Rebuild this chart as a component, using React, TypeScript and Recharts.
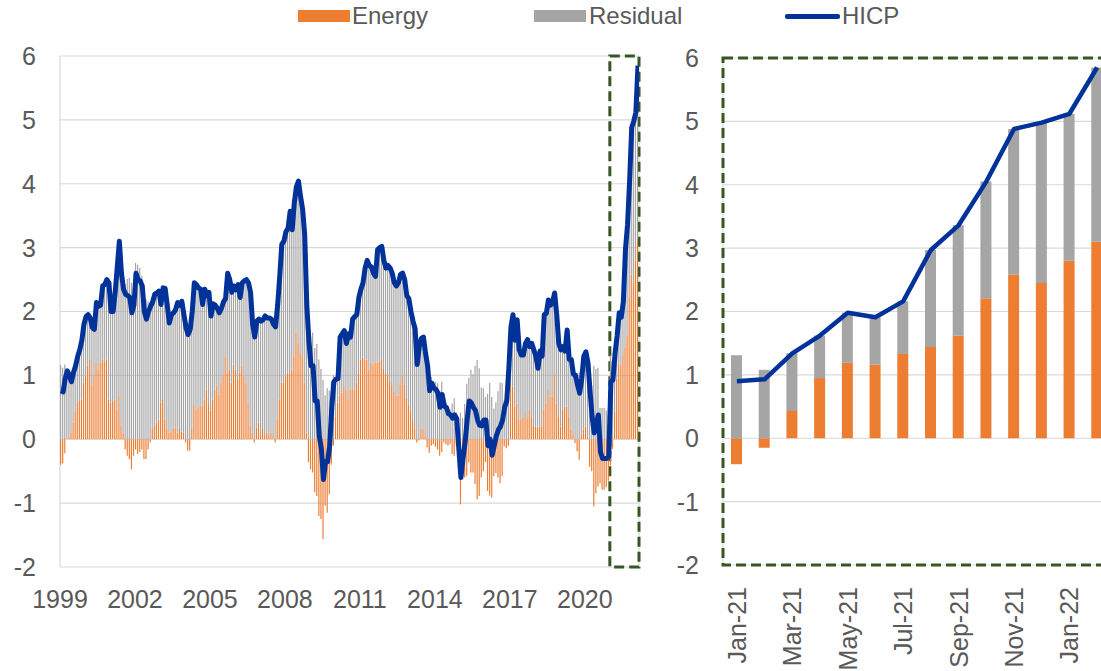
import React from 'react';
import { ComposedChart, Bar, Line, XAxis, YAxis, CartesianGrid, ReferenceArea } from 'recharts';

// monthly, Jan 1999 .. Feb 2022 (annual % change / pp contributions)
const startYear = 1999;

const hicp: number[] = [
  0.76, 0.74, 0.95, 1.07, 1.0, 0.9, 1.05, 1.15, 1.3, 1.4, 1.55, 1.8, // 1999
  1.92, 1.95, 1.9, 1.75, 1.72, 2.14, 2.08, 2.1, 2.4, 2.42, 2.5, 2.45, // 2000
  2.0, 2.0, 2.3, 2.7, 3.1, 2.6, 2.35, 2.27, 2.25, 2.22, 1.98, 2.1, // 2001
  2.6, 2.5, 2.48, 2.4, 2.0, 1.88, 2.0, 2.08, 2.15, 2.27, 2.29, 2.32, // 2002
  2.11, 2.37, 2.36, 2.1, 1.82, 1.95, 1.98, 2.03, 2.14, 2.1, 2.16, 1.95, // 2003
  1.75, 1.64, 1.72, 2.0, 2.45, 2.42, 2.37, 2.35, 2.11, 2.35, 2.25, 2.3, // 2004
  1.93, 2.12, 2.1, 2.05, 1.98, 2.05, 2.15, 2.2, 2.6, 2.5, 2.3, 2.4, // 2005
  2.34, 2.42, 2.22, 2.45, 2.48, 2.5, 2.45, 2.3, 1.8, 1.6, 1.85, 1.88, // 2006
  1.85, 1.87, 1.93, 1.9, 1.9, 1.88, 1.8, 1.76, 2.1, 2.55, 3.05, 3.1, // 2007
  3.25, 3.3, 3.57, 3.28, 3.7, 3.95, 4.04, 3.8, 3.6, 3.2, 2.1, 1.55, // 2008
  1.15, 1.15, 0.6, 0.6, 0.05, -0.15, -0.63, -0.35, -0.35, -0.1, 0.5, 0.9, // 2009
  0.94, 0.95, 1.6, 1.65, 1.7, 1.5, 1.65, 1.6, 1.88, 1.92, 1.95, 2.22, // 2010
  2.35, 2.45, 2.68, 2.8, 2.72, 2.7, 2.6, 2.55, 2.97, 3.0, 3.02, 2.8, // 2011
  2.68, 2.72, 2.68, 2.6, 2.45, 2.4, 2.45, 2.58, 2.6, 2.5, 2.25, 2.2, // 2012
  2.0, 1.85, 1.73, 1.17, 1.45, 1.58, 1.6, 1.35, 1.15, 0.76, 0.88, 0.8, // 2013
  0.78, 0.72, 0.5, 0.7, 0.52, 0.5, 0.4, 0.38, 0.33, 0.38, 0.32, -0.15, // 2014
  -0.6, -0.3, -0.05, 0.3, 0.6, 0.57, 0.5, 0.45, 0.3, 0.22, 0.21, 0.3, // 2015
  0.3, -0.1, 0.0, -0.25, -0.1, 0.05, 0.15, 0.2, 0.3, 0.5, 0.6, 1.1, // 2016
  1.75, 1.95, 1.55, 1.87, 1.4, 1.32, 1.32, 1.5, 1.56, 1.45, 1.5, 1.4, // 2017
  1.3, 1.11, 1.38, 1.3, 1.95, 1.97, 2.18, 2.1, 2.15, 2.29, 1.95, 1.5, // 2018
  1.4, 1.45, 1.38, 1.71, 1.25, 1.25, 1.02, 1.0, 0.85, 0.72, 0.95, 1.3, // 2019
  1.37, 1.2, 0.75, 0.35, 0.1, 0.25, 0.38, -0.2, -0.3, -0.3, -0.3, -0.27, // 2020
  0.9, 0.93, 1.34, 1.62, 1.98, 1.91, 2.16, 2.97, 3.36, 4.05, 4.88, 4.98, // 2021
  5.12, 5.85, // 2022
];

const energy: number[] = [
  -0.4, -0.38, -0.22, 0.0, 0.03, 0.1, 0.26, 0.44, 0.55, 0.6, 0.62, 0.89, // 1999
  1.0, 1.15, 1.25, 0.86, 0.99, 1.2, 1.09, 1.2, 1.25, 1.22, 1.25, 0.62, // 2000
  0.57, 0.6, 0.62, 0.47, 0.68, 0.21, 0.1, -0.16, -0.26, -0.31, -0.47, -0.26, // 2001
  -0.16, -0.23, -0.2, -0.16, -0.31, -0.31, -0.16, -0.05, 0.16, 0.21, 0.26, 0.31, // 2002
  0.57, 0.62, 0.31, 0.16, 0.1, 0.12, 0.16, 0.18, 0.1, 0.16, 0.12, 0.1, // 2003
  -0.05, -0.18, -0.18, 0.16, 0.52, 0.47, 0.5, 0.52, 0.52, 0.62, 0.78, 0.55, // 2004
  0.45, 0.62, 0.78, 0.83, 0.7, 0.89, 0.99, 1.3, 1.04, 1.09, 0.89, 1.17, // 2005
  1.09, 0.94, 1.04, 1.15, 0.99, 0.89, 0.57, 0.21, 0.1, -0.05, 0.18, 0.26, // 2006
  0.08, 0.16, 0.05, 0.1, 0.05, 0.1, 0.05, -0.05, 0.31, 0.62, 0.89, 0.89, // 2007
  0.99, 1.04, 1.02, 1.09, 1.3, 1.67, 1.51, 1.35, 1.3, 0.89, 0.1, -0.36, // 2008
  -0.47, -0.52, -0.83, -0.89, -1.2, -1.25, -1.56, -1.04, -1.15, -0.86, -0.4, -0.1, // 2009
  0.36, 0.57, 0.68, 0.73, 0.83, 0.78, 0.62, 0.78, 0.8, 0.78, 0.89, 1.04, // 2010
  1.25, 1.28, 1.25, 1.25, 1.09, 1.2, 1.17, 1.2, 1.2, 1.22, 1.25, 1.1, // 2011
  1.04, 1.02, 0.91, 0.85, 0.75, 0.68, 0.68, 0.85, 0.99, 0.85, 0.65, 0.52, // 2012
  0.44, 0.3, 0.16, -0.05, -0.02, 0.16, 0.16, 0.05, -0.13, -0.21, -0.1, -0.08, // 2013
  -0.12, -0.16, -0.26, -0.2, -0.05, -0.08, -0.1, -0.08, -0.23, -0.26, -0.1, -0.47, // 2014
  -1.02, -0.63, -0.6, -0.57, -0.36, -0.52, -0.52, -0.7, -0.94, -0.89, -0.6, -0.5, // 2015
  -0.36, -0.81, -0.88, -0.91, -0.58, -0.53, -0.6, -0.69, -0.58, -0.11, -0.14, -0.1, // 2016
  0.88, 0.82, 0.51, 0.56, 0.3, 0.3, 0.35, 0.41, 0.33, 0.46, 0.35, 0.22, // 2017
  0.2, 0.2, 0.2, 0.2, 0.46, 0.56, 0.77, 0.67, 0.67, 1.01, 0.56, 0.35, // 2018
  0.2, 0.46, 0.51, 0.51, 0.35, 0.15, 0.09, -0.06, -0.19, -0.32, 0.05, 0.15, // 2019
  0.2, 0.04, -0.43, -0.5, -1.05, -0.85, -0.74, -0.69, -0.79, -0.79, -0.75, -0.65, // 2020
  -0.41, -0.15, 0.43, 0.95, 1.19, 1.16, 1.33, 1.44, 1.62, 2.21, 2.58, 2.45, // 2021
  2.8, 3.1, // 2022
];

const yearLabels = ['1999', '2002', '2005', '2008', '2011', '2014', '2017', '2020'];
const recentMonths = [
  'Jan-21', 'Feb-21', 'Mar-21', 'Apr-21', 'May-21', 'Jun-21', 'Jul-21',
  'Aug-21', 'Sep-21', 'Oct-21', 'Nov-21', 'Dec-21', 'Jan-22', 'Feb-22',
];
const yTicks = [-2, -1, 0, 1, 2, 3, 4, 5, 6];

const ORANGE = '#ED7D31';
const GREY = '#A5A5A5';
const BLUE = '#003299';
const GREEN = '#375623';
const TEXT = '#595959';
const GRID = '#D9D9D9';
const FONT = "'Liberation Sans', Arial, sans-serif";

// residual = headline minus energy contribution
const fullData = hicp.map((v, i) => ({
  x: i + 0.5,
  hicp: v,
  energy: energy[i],
  residual: Math.round((v - energy[i]) * 100) / 100,
}));
const recentStart = hicp.length - recentMonths.length;
const recentData = recentMonths.map((label, i) => ({ ...fullData[recentStart + i], x: i + 0.5, label }));

const yearGridTicks = [...Array.from({ length: 24 }, (_, i) => i * 12), hicp.length];
const yearLabelTicks = yearLabels.map((y) => (Number(y) - startYear) * 12);
const monthGridTicks = Array.from({ length: recentMonths.length + 1 }, (_, i) => i);
const monthLabelTicks = recentMonths.map((_, i) => i + 0.5).filter((_, i) => i % 2 === 0);

const tickStyle = { fill: TEXT, fontSize: 25, fontFamily: FONT };

const RotatedTick = (props: any) => {
  const { x, y, payload } = props;
  return (
    <text
      x={x}
      y={y}
      transform={`rotate(-90 ${x} ${y})`}
      textAnchor="end"
      dy="0.36em"
      fill={TEXT}
      fontSize={25}
      fontFamily={FONT}
    >
      {recentMonths[Math.floor(payload.value)]}
    </text>
  );
};

const legendText: React.CSSProperties = {
  position: 'absolute',
  top: 4,
  fontSize: 24,
  lineHeight: '24px',
  color: TEXT,
  fontFamily: FONT,
  whiteSpace: 'nowrap',
};

export default function App() {
  return (
    <div
      style={{
        position: 'fixed',
        left: 0,
        top: 0,
        width: 1101,
        height: 671,
        overflow: 'hidden',
        background: '#fff',
        fontFamily: FONT,
      }}
    >
      {/* legend */}
      <div style={{ position: 'absolute', left: 298, top: 10, width: 52, height: 12, background: ORANGE }} />
      <span style={{ ...legendText, left: 352 }}>Energy</span>
      <div style={{ position: 'absolute', left: 534, top: 10, width: 52, height: 12, background: GREY }} />
      <span style={{ ...legendText, left: 589 }}>Residual</span>
      <div style={{ position: 'absolute', left: 785, top: 14, width: 55, height: 5, borderRadius: 2, background: BLUE }} />
      <span style={{ ...legendText, left: 842 }}>HICP</span>

      {/* long history */}
      <div style={{ position: 'absolute', left: 0, top: 0 }}>
        <ComposedChart
          width={660}
          height={671}
          data={fullData}
          stackOffset="sign"
          margin={{ top: 56, right: 21, left: 0, bottom: 0 }}
        >
          <CartesianGrid xAxisId="grid" stroke={GRID} strokeWidth={1.2} />
          <XAxis
            xAxisId="lab"
            dataKey="x"
            type="number"
            domain={[0, hicp.length]}
            allowDataOverflow
            ticks={yearLabelTicks}
            interval={0}
            tickFormatter={(v: number) => String(startYear + v / 12)}
            tick={tickStyle}
            tickSize={0}
            tickMargin={23}
            axisLine={false}
            tickLine={false}
            height={104}
          />
          <XAxis
            xAxisId="grid"
            dataKey="x"
            type="number"
            domain={[0, hicp.length]}
            allowDataOverflow
            ticks={yearGridTicks}
            interval={0}
            tick={false}
            axisLine={false}
            tickLine={false}
            height={0}
          />
          <YAxis
            type="number"
            domain={[-2, 6]}
            allowDataOverflow
            ticks={yTicks}
            interval={0}
            tick={tickStyle}
            tickSize={0}
            tickMargin={24}
            axisLine={false}
            tickLine={false}
            width={60}
          />
          <Bar xAxisId="lab" dataKey="energy" stackId="s" fill={ORANGE} barSize={1.2} isAnimationActive={false} />
          <Bar xAxisId="lab" dataKey="residual" stackId="s" fill={GREY} barSize={1.2} isAnimationActive={false} />
          <ReferenceArea
            xAxisId="lab"
            x1={recentStart}
            x2={hicp.length}
            y1={-2}
            y2={6}
            fill="none"
            fillOpacity={0}
            stroke={GREEN}
            strokeWidth={3}
            strokeDasharray="10 5"
          />
          <Line
            xAxisId="lab"
            dataKey="hicp"
            type="linear"
            stroke={BLUE}
            strokeWidth={5}
            strokeLinejoin="round"
            dot={false}
            isAnimationActive={false}
          />
        </ComposedChart>
      </div>

      {/* zoom on the last 14 months */}
      <div style={{ position: 'absolute', left: 660, top: 0 }}>
        <ComposedChart
          width={456}
          height={671}
          data={recentData}
          stackOffset="sign"
          margin={{ top: 58, right: 5, left: 0, bottom: 0 }}
        >
          <CartesianGrid xAxisId="grid" stroke={GRID} strokeWidth={1.2} />
          <XAxis
            xAxisId="lab"
            dataKey="x"
            type="number"
            domain={[0, recentMonths.length]}
            allowDataOverflow
            ticks={monthLabelTicks}
            interval={0}
            tick={<RotatedTick />}
            tickSize={0}
            tickMargin={22}
            axisLine={false}
            tickLine={false}
            height={106}
          />
          <XAxis
            xAxisId="grid"
            dataKey="x"
            type="number"
            domain={[0, recentMonths.length]}
            allowDataOverflow
            ticks={monthGridTicks}
            interval={0}
            tick={false}
            axisLine={false}
            tickLine={false}
            height={0}
          />
          <YAxis
            type="number"
            domain={[-2, 6]}
            allowDataOverflow
            ticks={yTicks}
            interval={0}
            tick={tickStyle}
            tickSize={0}
            tickMargin={24}
            axisLine={false}
            tickLine={false}
            width={63}
          />
          <Bar xAxisId="lab" dataKey="energy" stackId="s" fill={ORANGE} barSize={11} isAnimationActive={false} />
          <Bar xAxisId="lab" dataKey="residual" stackId="s" fill={GREY} barSize={11} isAnimationActive={false} />
          <ReferenceArea
            xAxisId="lab"
            x1={0}
            x2={recentMonths.length}
            y1={-2}
            y2={6}
            fill="none"
            fillOpacity={0}
            stroke={GREEN}
            strokeWidth={3}
            strokeDasharray="10 5"
          />
          <Line
            xAxisId="lab"
            dataKey="hicp"
            type="linear"
            stroke={BLUE}
            strokeWidth={4.5}
            strokeLinejoin="round"
            dot={false}
            isAnimationActive={false}
          />
        </ComposedChart>
      </div>
    </div>
  );
}
